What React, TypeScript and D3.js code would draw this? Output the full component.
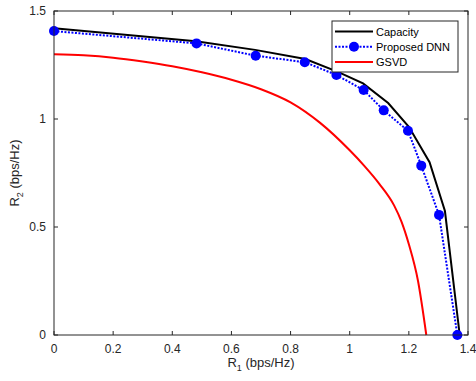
import { useEffect, useRef } from "react";
import * as d3 from "d3";

// values
const capacityR1 = [0, 0.48, 0.68, 0.85, 0.96, 1.045, 1.13, 1.2, 1.27, 1.322, 1.372];
const capacityR2 = [1.42, 1.36, 1.32, 1.278, 1.218, 1.165, 1.074, 0.964, 0.8, 0.574, 0];

const dnnR1 = [0, 0.482, 0.682, 0.848, 0.955, 1.047, 1.115, 1.197, 1.242, 1.302, 1.364];
const dnnR2 = [1.407, 1.35, 1.293, 1.263, 1.204, 1.134, 1.04, 0.946, 0.784, 0.556, 0];

const gsvdR1 = [0, 0.1, 0.2, 0.3, 0.4, 0.5, 0.6, 0.7, 0.8, 0.9, 1.0, 1.05, 1.1, 1.15, 1.175, 1.2, 1.231, 1.259];
const gsvdR2 = [1.3, 1.295, 1.284, 1.266, 1.244, 1.216, 1.182, 1.138, 1.077, 0.982, 0.855, 0.782, 0.7, 0.6, 0.525, 0.42, 0.25, 0];

const xTicks = [0, 0.2, 0.4, 0.6, 0.8, 1, 1.2, 1.4];
const yTicks = [0, 0.5, 1, 1.5];

const legendNames = ["Capacity", "Proposed DNN", "GSVD"];

const App = () => {
  const svgRef = useRef<SVGSVGElement>(null);

  useEffect(() => {
    const width = 476;
    const height = 381;
    const m = { left: 54, right: 8, top: 11, bottom: 46 };
    const font = "'Liberation Sans', Arial, sans-serif";
    const axisColor = "#262626";

    const svg = d3.select(svgRef.current);
    svg.selectAll("*").remove();
    svg
      .attr("width", width)
      .attr("height", height)
      .attr("viewBox", `0 0 ${width} ${height}`)
      .style("font-family", font);

    const x = d3.scaleLinear().domain([0, 1.4]).range([m.left, width - m.right]);
    const y = d3.scaleLinear().domain([0, 1.5]).range([height - m.bottom, m.top]);

    svg.append("rect").attr("width", width).attr("height", height).attr("fill", "#fff");

    const line = d3
      .line<[number, number]>()
      .x((d) => x(d[0]))
      .y((d) => y(d[1]));
    const smooth = d3
      .line<[number, number]>()
      .x((d) => x(d[0]))
      .y((d) => y(d[1]))
      .curve(d3.curveMonotoneX);

    const zip = (a: number[], b: number[]) => a.map((v, i) => [v, b[i]] as [number, number]);

    const plot = svg.append("g");

    plot
      .append("path")
      .attr("d", line(zip(capacityR1, capacityR2)))
      .attr("fill", "none")
      .attr("stroke", "#000")
      .attr("stroke-width", 2);

    plot
      .append("path")
      .attr("d", line(zip(dnnR1, dnnR2)))
      .attr("fill", "none")
      .attr("stroke", "#0000ff")
      .attr("stroke-width", 2)
      .attr("stroke-dasharray", "2,1.5");

    plot
      .selectAll("circle.dnn")
      .data(zip(dnnR1, dnnR2))
      .join("circle")
      .attr("class", "dnn")
      .attr("cx", (d) => x(d[0]))
      .attr("cy", (d) => y(d[1]))
      .attr("r", 5)
      .attr("fill", "#0000ff");

    // the GSVD curve is smooth in the figure
    plot
      .append("path")
      .attr("d", smooth(zip(gsvdR1, gsvdR2)))
      .attr("fill", "none")
      .attr("stroke", "#ff0000")
      .attr("stroke-width", 2);

    // axes box with inward ticks
    const x0 = x(0), x1 = x(1.4), y0 = y(0), y1 = y(1.5);
    const ax = svg.append("g").attr("stroke", axisColor).attr("stroke-width", 1).attr("fill", "none");
    ax.append("rect")
      .attr("x", x0)
      .attr("y", y1)
      .attr("width", x1 - x0)
      .attr("height", y0 - y1)
      .attr("stroke", axisColor);
    const tl = 4;
    xTicks.forEach((t) => {
      ax.append("line").attr("x1", x(t)).attr("x2", x(t)).attr("y1", y0).attr("y2", y0 - tl);
      ax.append("line").attr("x1", x(t)).attr("x2", x(t)).attr("y1", y1).attr("y2", y1 + tl);
    });
    yTicks.forEach((t) => {
      ax.append("line").attr("x1", x0).attr("x2", x0 + tl).attr("y1", y(t)).attr("y2", y(t));
      ax.append("line").attr("x1", x1).attr("x2", x1 - tl).attr("y1", y(t)).attr("y2", y(t));
    });

    const fmt = (v: number) => String(v);
    svg
      .append("g")
      .selectAll("text")
      .data(xTicks)
      .join("text")
      .attr("x", (d) => x(d))
      .attr("y", y0 + 18)
      .attr("text-anchor", "middle")
      .attr("font-size", 12)
      .attr("fill", axisColor)
      .text(fmt);

    svg
      .append("g")
      .selectAll("text")
      .data(yTicks)
      .join("text")
      .attr("x", x0 - 8)
      .attr("y", (d) => y(d) + 4.3)
      .attr("text-anchor", "end")
      .attr("font-size", 12)
      .attr("fill", axisColor)
      .text(fmt);

    // axis labels with subscripts
    const xl = svg
      .append("text")
      .attr("x", (x0 + x1) / 2)
      .attr("y", 367)
      .attr("text-anchor", "middle")
      .attr("font-size", 13)
      .attr("fill", axisColor);
    xl.append("tspan").text("R");
    xl.append("tspan").attr("dy", 4).attr("font-size", 9).text("1");
    xl.append("tspan").attr("dy", -4).text(" (bps/Hz)");

    const yl = svg
      .append("text")
      .attr("transform", `translate(${19},${(y0 + y1) / 2}) rotate(-90)`)
      .attr("text-anchor", "middle")
      .attr("font-size", 13)
      .attr("fill", axisColor);
    yl.append("tspan").text("R");
    yl.append("tspan").attr("dy", 4).attr("font-size", 9).text("2");
    yl.append("tspan").attr("dy", -4).text(" (bps/Hz)");

    // legend
    const lg = svg.append("g").attr("transform", "translate(332,21)");
    lg.append("rect")
      .attr("width", 126)
      .attr("height", 51)
      .attr("fill", "#fff")
      .attr("stroke", axisColor)
      .attr("stroke-width", 1);
    const styles = [
      { color: "#000", dash: null, marker: false },
      { color: "#0000ff", dash: "2,1.5", marker: true },
      { color: "#ff0000", dash: null, marker: false },
    ];
    legendNames.forEach((name, i) => {
      const ly = 10.5 + i * 15.3;
      lg.append("line")
        .attr("x1", 3)
        .attr("x2", 41)
        .attr("y1", ly)
        .attr("y2", ly)
        .attr("stroke", styles[i].color)
        .attr("stroke-width", 2)
        .attr("stroke-dasharray", styles[i].dash);
      if (styles[i].marker) {
        lg.append("circle").attr("cx", 22).attr("cy", ly).attr("r", 5).attr("fill", "#0000ff");
      }
      lg.append("text")
        .attr("x", 44)
        .attr("y", ly + 4)
        .attr("font-size", 11)
        .attr("fill", "#000")
        .text(name);
    });
  }, []);

  return (
    <svg
      ref={svgRef}
      style={{ position: "fixed", left: 0, top: 0, display: "block" }}
    ></svg>
  );
};

export default App;
